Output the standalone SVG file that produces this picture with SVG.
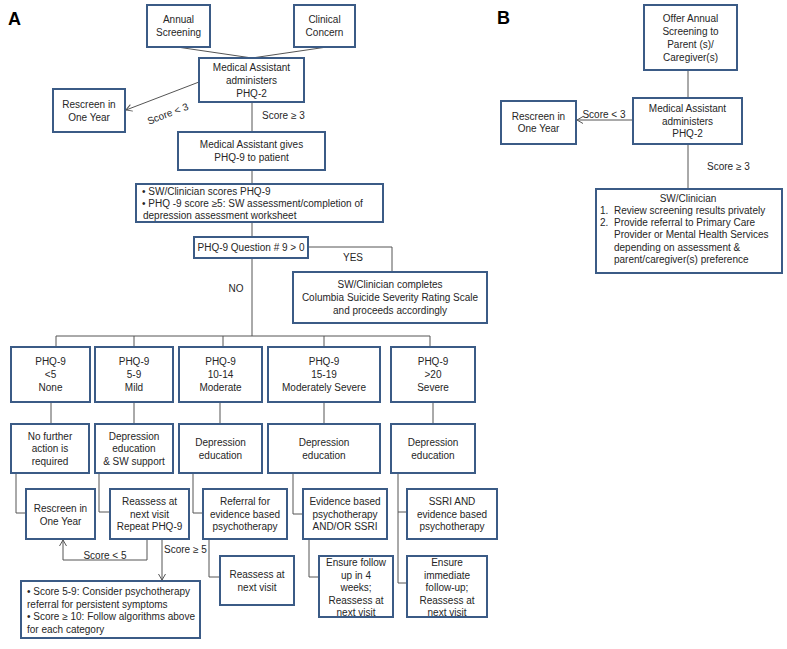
<svg xmlns="http://www.w3.org/2000/svg" width="787" height="649" viewBox="0 0 787 649">
<defs>
<style>
.box{fill:#fff;stroke:#3b5b86;stroke-width:2}
.ln{fill:none;stroke:#555;stroke-width:1}
.t{font-family:"Liberation Sans",Arial,sans-serif;font-size:10px;fill:#262626;text-anchor:middle}
.l{text-anchor:start}
.lab{font-family:"Liberation Sans",Arial,sans-serif;font-size:18px;font-weight:bold;fill:#000}
</style>
<marker id="ar" markerWidth="8" markerHeight="8" refX="7" refY="4" orient="auto" markerUnits="userSpaceOnUse">
<path d="M1,0.5 L7,4 L1,7.5" fill="none" stroke="#555" stroke-width="1"/>
</marker>
</defs>
<rect width="787" height="649" fill="#fff"/>
<text class="lab" x="8" y="25">A</text>
<text class="lab" x="497" y="24">B</text>

<g id="connectors">
<path class="ln" d="M177,47 L252,58 M327,47 L252,58"/>
<path class="ln" d="M199,82 L126,110" marker-end="url(#ar)"/>
<path class="ln" d="M252,102 V132 M252,170 V184 M252,222 V237"/>
<path class="ln" d="M308,247 H392 V272"/>
<path class="ln" d="M252,258 V336 M56,336 H430 M56,336 V347 M134,336 V347 M223,336 V347 M324,336 V347 M430,336 V347"/>
<path class="ln" d="M51,402 V424 M134,402 V424 M220,402 V424 M324,402 V424 M433,402 V424"/>
<path class="ln" d="M16,473 V513 H26 M99,473 V512 H110 M193,473 V513 H203 M293,473 V514 H303"/>
<path class="ln" d="M209,539 V577 H220 M309,539 V577 H319"/>
<path class="ln" d="M398,473 V583 H407 M398,512 H407"/>
<path class="ln" d="M147,539 V560 H63 V540" marker-end="url(#ar)"/>
<path class="ln" d="M162,539 V580" marker-end="url(#ar)"/>
<path class="ln" d="M688,70 V98"/>
<path class="ln" d="M633,120 H577" marker-end="url(#ar)"/>
<path class="ln" d="M688,144 V189"/>
</g>
<text class="t" transform="translate(169,117) rotate(-21)">Score &lt;  3</text>
<text class="t l" x="262" y="119">Score  ≥ 3</text>
<text class="t" x="353" y="261">YES</text>
<text class="t" x="236" y="292">NO</text>
<text class="t" x="105" y="559">Score  &lt; 5</text>
<text class="t l" x="164" y="553">Score ≥ 5</text>
<text class="t" x="604" y="118">Score &lt;  3</text>
<text class="t l" x="707" y="170">Score  ≥ 3</text>

<g id="annual"><rect class="box" x="147" y="5" width="63" height="42"/><text class="t" x="178.5" y="23">Annual</text><text class="t" x="178.5" y="36">Screening</text></g>
<g id="clinical"><rect class="box" x="294" y="5" width="61" height="42"/><text class="t" x="324.5" y="23">Clinical</text><text class="t" x="324.5" y="36">Concern</text></g>
<g id="ma-phq2"><rect class="box" x="199" y="58" width="105" height="44"/><text class="t" x="251.5" y="71">Medical Assistant</text><text class="t" x="251.5" y="84">administers</text><text class="t" x="251.5" y="97">PHQ-2</text></g>
<g id="rescreen-a"><rect class="box" x="53" y="89" width="72" height="43"/><text class="t" x="89" y="108">Rescreen in</text><text class="t" x="89" y="121">One Year</text></g>
<g id="ma-phq9"><rect class="box" x="178" y="132" width="147" height="38"/><text class="t" x="251.5" y="148">Medical Assistant gives</text><text class="t" x="251.5" y="161">PHQ-9 to  patient</text></g>
<g id="sw-scores"><rect class="box" x="136" y="184" width="247" height="38"/><text class="t l" x="142" y="195">•  SW/Clinician scores PHQ-9</text><text class="t l" x="142" y="207">•  PHQ -9 score ≥5: SW  assessment/completion of</text><text class="t l" x="143" y="219">depression assessment worksheet</text></g>
<g id="q9"><rect class="box" x="194" y="237" width="114" height="21"/><text class="t" x="251" y="251">PHQ-9 Question # 9 &gt; 0</text></g>
<g id="columbia"><rect class="box" x="293" y="272" width="194" height="51"/><text class="t" x="390" y="288">SW/Clinician completes</text><text class="t" x="390" y="301">Columbia Suicide Severity Rating Scale</text><text class="t" x="390" y="314">and proceeds accordingly</text></g>

<g id="phq-none"><rect class="box" x="11" y="347" width="79" height="55"/><text class="t" x="50.5" y="365">PHQ-9</text><text class="t" x="50.5" y="378">&lt;5</text><text class="t" x="50.5" y="391">None</text></g>
<g id="phq-mild"><rect class="box" x="95" y="347" width="78" height="55"/><text class="t" x="134" y="365">PHQ-9</text><text class="t" x="134" y="378">5-9</text><text class="t" x="134" y="391">Mild</text></g>
<g id="phq-mod"><rect class="box" x="179" y="347" width="83" height="55"/><text class="t" x="220.5" y="365">PHQ-9</text><text class="t" x="220.5" y="378">10-14</text><text class="t" x="220.5" y="391">Moderate</text></g>
<g id="phq-modsev"><rect class="box" x="268" y="347" width="112" height="55"/><text class="t" x="324" y="365">PHQ-9</text><text class="t" x="324" y="378">15-19</text><text class="t" x="324" y="391">Moderately Severe</text></g>
<g id="phq-sev"><rect class="box" x="391" y="347" width="84" height="55"/><text class="t" x="433" y="365">PHQ-9</text><text class="t" x="433" y="378">&gt;20</text><text class="t" x="433" y="391">Severe</text></g>

<g id="no-action"><rect class="box" x="11" y="424" width="78" height="49"/><text class="t" x="50" y="440">No further</text><text class="t" x="50" y="452">action is</text><text class="t" x="50" y="465">required</text></g>
<g id="dep-sw"><rect class="box" x="95" y="424" width="78" height="49"/><text class="t" x="134" y="440">Depression</text><text class="t" x="134" y="452">education</text><text class="t" x="134" y="465">&amp; SW support</text></g>
<g id="dep-mod"><rect class="box" x="179" y="424" width="83" height="49"/><text class="t" x="220.5" y="446">Depression</text><text class="t" x="220.5" y="459">education</text></g>
<g id="dep-modsev"><rect class="box" x="268" y="424" width="112" height="49"/><text class="t" x="324" y="446">Depression</text><text class="t" x="324" y="459">education</text></g>
<g id="dep-sev"><rect class="box" x="391" y="424" width="84" height="49"/><text class="t" x="433" y="446">Depression</text><text class="t" x="433" y="459">education</text></g>

<g id="rescreen-none"><rect class="box" x="26" y="489" width="69" height="50"/><text class="t" x="60.5" y="512">Rescreen in</text><text class="t" x="60.5" y="525">One Year</text></g>
<g id="reassess-mild"><rect class="box" x="110" y="489" width="79" height="50"/><text class="t" x="149.5" y="505">Reassess at</text><text class="t" x="149.5" y="518">next visit</text><text class="t" x="149.5" y="530">Repeat PHQ-9</text></g>
<g id="referral"><rect class="box" x="203" y="489" width="84" height="50"/><text class="t" x="245" y="505">Referral for</text><text class="t" x="245" y="518">evidence based</text><text class="t" x="245" y="530">psychotherapy</text></g>
<g id="evidence"><rect class="box" x="303" y="489" width="84" height="50"/><text class="t" x="345" y="505">Evidence based</text><text class="t" x="345" y="518">psychotherapy</text><text class="t" x="345" y="530">AND/OR SSRI</text></g>
<g id="ssri"><rect class="box" x="407" y="489" width="90" height="50"/><text class="t" x="452" y="505">SSRI AND</text><text class="t" x="452" y="518">evidence based</text><text class="t" x="452" y="530">psychotherapy</text></g>
<g id="reassess-mod"><rect class="box" x="220" y="556" width="74" height="49"/><text class="t" x="257" y="578">Reassess at</text><text class="t" x="257" y="591">next visit</text></g>
<g id="ensure-4wk"><rect class="box" x="319" y="556" width="74" height="61"/><text class="t" x="356" y="566">Ensure follow</text><text class="t" x="356" y="579">up in 4</text><text class="t" x="356" y="591">weeks;</text><text class="t" x="356" y="604">Reassess at</text><text class="t" x="356" y="616">next visit</text></g>
<g id="ensure-imm"><rect class="box" x="407" y="556" width="80" height="61"/><text class="t" x="447" y="566">Ensure</text><text class="t" x="447" y="579">immediate</text><text class="t" x="447" y="591">follow-up;</text><text class="t" x="447" y="604">Reassess at</text><text class="t" x="447" y="616">next visit</text></g>
<g id="score-box"><rect class="box" x="21" y="581" width="179" height="57"/><text class="t l" x="27" y="595">• Score 5-9: Consider psychotherapy</text><text class="t l" x="27" y="608">referral for persistent symptoms</text><text class="t l" x="27" y="620">• Score ≥ 10: Follow algorithms above</text><text class="t l" x="27" y="633">for each category</text></g>

<g id="offer"><rect class="box" x="644" y="5" width="93" height="65"/><text class="t" x="690.5" y="22">Offer Annual</text><text class="t" x="690.5" y="35">Screening to</text><text class="t" x="690.5" y="48">Parent (s)/</text><text class="t" x="690.5" y="61">Caregiver(s)</text></g>
<g id="ma-b"><rect class="box" x="633" y="98" width="109" height="46"/><text class="t" x="687.5" y="112">Medical Assistant</text><text class="t" x="687.5" y="125">administers</text><text class="t" x="687.5" y="137">PHQ-2</text></g>
<g id="rescreen-b"><rect class="box" x="501" y="101" width="75" height="43"/><text class="t" x="538.5" y="120">Rescreen in</text><text class="t" x="538.5" y="132">One Year</text></g>
<g id="sw-b"><rect class="box" x="596" y="189" width="186" height="84"/><text class="t" x="688" y="202">SW/Clinician</text><text class="t l" x="600" y="214">1.</text><text class="t l" x="614" y="214">Review screening results privately</text><text class="t l" x="600" y="226">2.</text><text class="t l" x="614" y="226">Provide referral to Primary  Care</text><text class="t l" x="614" y="238">Provider or Mental Health Services</text><text class="t l" x="614" y="251">depending on assessment &amp;</text><text class="t l" x="614" y="263">parent/caregiver(s) preference</text></g>
</svg>
